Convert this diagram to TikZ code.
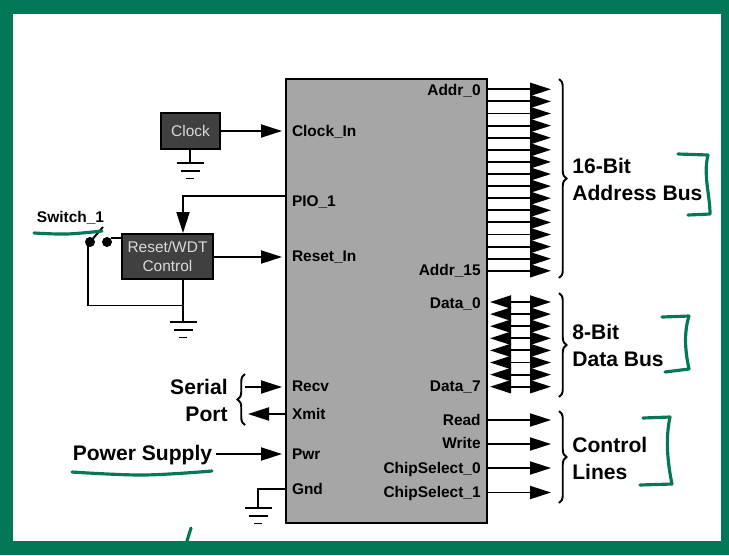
\documentclass[tikz,border=0pt]{standalone}
\usepackage{fontspec}
\setmainfont{Liberation Sans}
\usetikzlibrary{arrows.meta,decorations.pathreplacing}

\definecolor{framegreen}{RGB}{3,120,88}
\definecolor{chipgray}{RGB}{166,166,166}
\definecolor{blockgray}{RGB}{64,64,64}

\tikzset{
    sigtip/.tip={Triangle[length=4.2mm,width=2.6mm]},
    signal/.style={line width=1.1pt,-sigtip},
    wire/.style={line width=1.1pt},
    databus/.style={line width=1.1pt,sigtip-sigtip},
    block/.style={draw=black,line width=1.4pt,fill=blockgray,text=white!85!black,font=\fontsize{8.8}{11.2}\selectfont,align=center,inner sep=0pt},
    pinleft/.style={anchor=west,inner sep=0pt,outer xsep=0.2cm,font=\fontsize{8.8}{10}\selectfont\bfseries,text height=0.72em,text depth=0.2em},
    pinright/.style={anchor=east,inner sep=0pt,font=\fontsize{8.8}{10}\selectfont\bfseries,text height=0.72em,text depth=0.2em},
    grouplabel/.style={inner sep=0pt,font=\fontsize{12}{15.4}\selectfont\bfseries,align=left,anchor=west},
    busbrace/.style={line width=1.1pt,decorate,decoration={brace,amplitude=0.15cm}},
    contact/.style={circle,fill=black,inner sep=0pt,minimum size=0.2cm},
    handmark/.style={draw=framegreen,line width=1.8pt,line cap=round,line join=round},
    groundsym/.pic={
        \draw[wire] (-13.5,0) -- (13.5,0);
        \draw[wire] (-9.5,8) -- (9.5,8);
        \draw[wire] (-4,15.5) -- (4,15.5);
    }
}

\begin{document}
\begin{tikzpicture}[x=0.02cm,y=-0.02cm]
\useasboundingbox (0,0) rectangle (729,555);

% Green frame
\fill[framegreen] (0,0) rectangle (729,555);
\fill[white] (13,14) rectangle (721,541);

% Main chip
\node[draw=black,line width=1.4pt,fill=chipgray,minimum width=4.02cm,minimum height=8.88cm,inner sep=0pt] (chip) at (386.5,301) {};

% Blocks on the left
\node[block,minimum width=1.18cm,minimum height=0.72cm] (clock) at (190.5,131) {Clock};
\node[block,minimum width=1.82cm,minimum height=0.9cm] (reset) at (167.5,256.5) {Reset/WDT\\Control};

% Pin labels
\node[pinleft] (clockin) at (282,131.5) {Clock\_In};
\node[pinleft] (pio) at (282,202) {PIO\_1};
\node[pinleft] (resetin) at (282,257) {Reset\_In};
\node[pinleft] (recv) at (282,387) {Recv};
\node[pinleft] (xmit) at (282,415) {Xmit};
\node[pinleft] (pwr) at (282,454.5) {Pwr};
\node[pinleft] (gnd) at (282,489.5) {Gnd};

\node[pinright] (addrfirst) at (481,91) {Addr\_0};
\node[pinright] (addrlast) at (481,271) {Addr\_15};
\node[pinright] (datafirst) at (481,304) {Data\_0};
\node[pinright] (datalast) at (481,387) {Data\_7};
\node[pinright] (read) at (481,420.5) {Read};
\node[pinright] (write) at (481,444) {Write};
\node[pinright] (select0) at (481,468.5) {ChipSelect\_0};
\node[pinright] (select1) at (481,492.5) {ChipSelect\_1};

% Address bus
\foreach \i in {0,...,15} {
    \pgfmathsetmacro{\ypos}{89.3+12.1*\i}
    \coordinate (addrout\i) at (487,\ypos);
    \coordinate (addrtip\i) at (551,\ypos);
    \draw[signal] (addrout\i) -- (addrtip\i);
}

% Data bus
\foreach \i in {0,...,7} {
    \pgfmathsetmacro{\ypos}{302+12.1*\i}
    \coordinate (dataout\i) at (490,\ypos);
    \coordinate (datatip\i) at (551,\ypos);
    \draw[databus] (dataout\i) -- (datatip\i);
}

% Control lines
\foreach \name/\ypos in {read/420,write/444,selecta/468,selectb/492.5} {
    \coordinate (\name out) at (487,\ypos);
    \coordinate (\name tip) at (551,\ypos);
    \draw[signal] (\name out) -- (\name tip);
}

% Braces and their labels
\coordinate (addrtop) at (559,79);
\coordinate (addrbot) at (559,278);
\coordinate (datatop) at (559,293);
\coordinate (databot) at (559,397);
\coordinate (ctrltop) at (559,411);
\coordinate (ctrlbot) at (559,503);
\draw[busbrace] (addrtop) -- (addrbot);
\draw[busbrace] (datatop) -- (databot);
\draw[busbrace] (ctrltop) -- (ctrlbot);
\node[grouplabel] (addrlabel) at (572,179) {16-Bit\\Address Bus};
\node[grouplabel] (datalabel) at (572,345) {8-Bit\\Data Bus};
\node[grouplabel] (ctrllabel) at (572,458) {Control\\Lines};

% Clock and reset wiring
\draw[signal] (clock.east) -- (clock.east -| clockin.west);
\draw[signal] (reset.east |- resetin.west) -- (resetin.west);
\coordinate (piostart) at (286,196);
\coordinate (piobend) at (183,196);
\coordinate (piotip) at (183,233);
\draw[wire,-sigtip] (piostart) -- (piobend) -- (piotip);
\coordinate (clockgnd) at (190,163);
\draw[wire] (clock.south -| clockgnd) -- (clockgnd);
\pic at (clockgnd) {groundsym};
\coordinate (resetgnd) at (183,322);
\draw[wire] (reset.south -| resetgnd) -- (resetgnd);
\pic at (resetgnd) {groundsym};

% Switch
\node[contact] (contacta) at (90,242) {};
\node[contact] (contactb) at (107,242) {};
\coordinate (bladeend) at (103,227);
\coordinate (loopcorner) at (88,305.5);
\coordinate (loopend) at (183,305.5);
\draw[wire] (contacta.center) -- (bladeend);
\draw[wire] (contactb.north east) -- (contactb.north east -| reset.west);
\draw[wire] (contacta.center) -- (88,242) -- (loopcorner) -- (loopend);
\node[inner sep=0pt,font=\fontsize{8.8}{10}\selectfont\bfseries] (switch) at (70.5,218) {Switch\_1};

% Serial port
\node[inner sep=0pt,font=\fontsize{12}{15.4}\selectfont\bfseries,align=right,anchor=east] (serial) at (228,400.5) {Serial\\Port};
\coordinate (serialtop) at (245,374);
\coordinate (serialbot) at (245,425);
\draw[busbrace] (serialbot) -- (serialtop);
\coordinate (recvin) at (245,387);
\coordinate (xmittip) at (248,414);
\draw[signal] (recvin) -- (recvin -| recv.west);
\draw[signal] (chip.west |- xmittip) -- (xmittip);

% Power and ground
\node[inner sep=0pt,font=\fontsize{12}{15}\selectfont\bfseries] (power) at (142.5,455) {Power Supply};
\coordinate (powerout) at (216,454);
\draw[signal] (powerout) -- (powerout -| pwr.west);
\coordinate (gndcorner) at (258,489);
\coordinate (gndend) at (258,508);
\draw[wire] (chip.west |- gndcorner) -- (gndcorner) -- (gndend);
\pic at (gndend) {groundsym};

% Hand-drawn marks
\draw[handmark] plot[smooth,tension=0.6] coordinates {(34,233) (67,234) (102,231)};
\draw[handmark] plot[smooth,tension=0.6] coordinates {(72,472) (143,475) (212,471)};
\draw[handmark] (678,154) -- (708,155) .. controls (703,175) and (710,195) .. (710,214) -- (688,215);
\draw[handmark] (662,317) -- (689,316) .. controls (683,335) and (686,355) .. (689,369) -- (665,372);
\draw[handmark] (643,418) -- (670,417) .. controls (665,440) and (668,465) .. (672,484) -- (640,485);
\draw[handmark] (191,528) -- (187,541);

\end{tikzpicture}
\end{document}
